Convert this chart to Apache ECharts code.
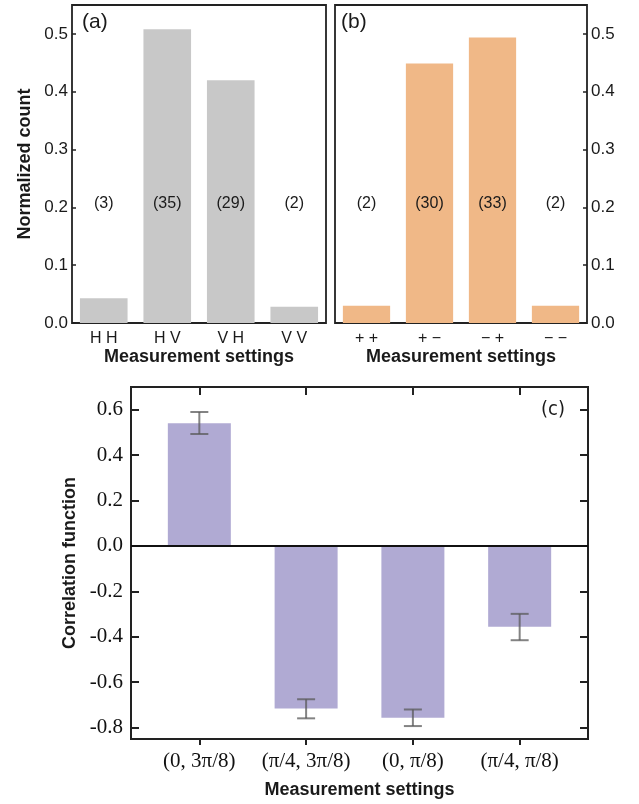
<!DOCTYPE html>
<html>
<head>
<meta charset="utf-8">
<script src="https://cdn.jsdelivr.net/npm/echarts@6/dist/echarts.min.js"></script>
<style>
html,body{margin:0;padding:0;background:#fff;}
#chart{width:639px;height:804px;}
</style>
</head>
<body>
<div id="chart"></div>
<script>
// ---- data ----
const catsA = ['H H', 'H V', 'V H', 'V V'];
const valsA = [0.043, 0.508, 0.420, 0.028];
const countsA = [3, 35, 29, 2];

const catsB = ['+ +', '+ \u2212', '\u2212 +', '\u2212 \u2212'];
const valsB = [0.030, 0.449, 0.494, 0.030];
const countsB = [2, 30, 33, 2];

const catsC = ['(0, 3\u03c0/8)', '(\u03c0/4, 3\u03c0/8)', '(0, \u03c0/8)', '(\u03c0/4, \u03c0/8)'];
const valsC = [0.54, -0.716, -0.756, -0.356];
const errLowC = [0.493, -0.759, -0.793, -0.415];
const errHighC = [0.590, -0.675, -0.720, -0.299];

const ticksAB = [0, 0.1, 0.2, 0.3, 0.4, 0.5];
const ticksC = [-0.8, -0.6, -0.4, -0.2, 0.0, 0.2, 0.4, 0.6];
const catPosC = [0, 1, 2, 3];

// ---- styling constants ----
const LABEL_Y = 0.207;
const SANS = 'Liberation Sans, Arial, sans-serif';
const SERIF = 'Liberation Serif, Times New Roman, serif';
const FRAME = '#222';
const TXT = '#1a1a1a';
const GRAY = '#c8c8c8';
const ORANGE = '#f0b887';
const PURPLE = '#b0aad3';

const chart = echarts.init(document.getElementById('chart'), null, {renderer: 'canvas'});

function fmt1(v){ return v.toFixed(1); }
const titleStyle = {fontFamily: SANS, fontSize: 18, fontWeight: 'bold', color: TXT};
const noLine = {show: false, onZero: false};

const option = {
  animation: false,
  backgroundColor: '#fff',
  grid: [
    {left: 72, top: 5, width: 254, height: 318, show: true, borderColor: FRAME, borderWidth: 1.8, backgroundColor: 'transparent'},
    {left: 335, top: 5, width: 252, height: 318, show: true, borderColor: FRAME, borderWidth: 1.8, backgroundColor: 'transparent'},
    {left: 131, top: 387, width: 457, height: 352, show: true, borderColor: FRAME, borderWidth: 2, backgroundColor: 'transparent'}
  ],
  xAxis: [
    {type: 'category', gridIndex: 0, data: catsA, axisLine: noLine, axisTick: {show: false},
     axisLabel: {fontFamily: SANS, fontSize: 16, color: TXT, margin: 8},
     name: 'Measurement settings', nameLocation: 'middle', nameGap: 25, nameTextStyle: titleStyle},
    {type: 'category', gridIndex: 1, data: catsB, axisLine: noLine, axisTick: {show: false},
     axisLabel: {fontFamily: SANS, fontSize: 16, color: TXT, margin: 8},
     name: 'Measurement settings', nameLocation: 'middle', nameGap: 25, nameTextStyle: titleStyle},
    {type: 'value', gridIndex: 2, min: -0.64, max: 3.64, position: 'bottom',
     splitLine: {show: false}, axisLine: noLine,
     axisTick: {show: true, inside: false, length: 6, lineStyle: {color: FRAME, width: 2}, customValues: catPosC},
     axisLabel: {fontFamily: SERIF, fontSize: 21, color: '#111', margin: 12, customValues: catPosC,
       formatter: v => catsC[Math.round(v)]},
     name: 'Measurement settings', nameLocation: 'middle', nameGap: 42, nameTextStyle: titleStyle},
    {type: 'value', gridIndex: 2, min: -0.64, max: 3.64, position: 'top',
     splitLine: {show: false}, axisLine: noLine,
     axisTick: {show: true, inside: true, length: 8, lineStyle: {color: FRAME, width: 2}, customValues: catPosC},
     axisLabel: {show: false}}
  ],
  yAxis: [
    {type: 'value', gridIndex: 0, min: 0, max: 0.55, position: 'left',
     splitLine: {show: false}, axisLine: noLine,
     axisTick: {show: true, inside: true, length: 4, lineStyle: {color: FRAME, width: 1.5}, customValues: ticksAB},
     axisLabel: {fontFamily: SANS, fontSize: 17, color: TXT, margin: 4, customValues: ticksAB, formatter: fmt1},
     name: 'Normalized count', nameLocation: 'middle', nameRotate: 90, nameGap: 38, nameTextStyle: titleStyle},
    {type: 'value', gridIndex: 1, min: 0, max: 0.55, position: 'right',
     splitLine: {show: false}, axisLine: noLine,
     axisTick: {show: true, inside: true, length: 4, lineStyle: {color: FRAME, width: 1.5}, customValues: ticksAB},
     axisLabel: {fontFamily: SANS, fontSize: 17, color: TXT, margin: 4, customValues: ticksAB, formatter: fmt1}},
    {type: 'value', gridIndex: 2, min: -0.85, max: 0.70, position: 'left',
     splitLine: {show: false}, axisLine: noLine,
     axisTick: {show: true, inside: true, length: 8, lineStyle: {color: FRAME, width: 2}, customValues: ticksC},
     axisLabel: {fontFamily: SERIF, fontSize: 21, color: '#111', margin: 8, customValues: ticksC, formatter: fmt1},
     name: 'Correlation function', nameLocation: 'middle', nameRotate: 90, nameGap: 48, nameTextStyle: titleStyle},
    {type: 'value', gridIndex: 2, min: -0.85, max: 0.70, position: 'right',
     splitLine: {show: false}, axisLine: noLine,
     axisTick: {show: true, inside: true, length: 8, lineStyle: {color: FRAME, width: 2}, customValues: ticksC},
     axisLabel: {show: false}}
  ],
  graphic: [
    {type: 'text', left: 82, top: 12, style: {text: '(a)', font: '21px ' + SANS, fill: TXT}},
    {type: 'text', left: 341, top: 12, style: {text: '(b)', font: '21px ' + SANS, fill: TXT}},
    {type: 'text', left: 541, top: 400, style: {text: '(c)', font: '20px "DejaVu Sans Condensed", ' + SANS, fill: TXT}}
  ],
  series: [
    {type: 'bar', xAxisIndex: 0, yAxisIndex: 0, data: valsA, barCategoryGap: '25%',
     itemStyle: {color: GRAY}},
    {type: 'scatter', xAxisIndex: 0, yAxisIndex: 0, symbolSize: 0, z: 5,
     itemStyle: {opacity: 1},
     data: countsA.map((c, i) => [i, LABEL_Y, c]),
     label: {show: true, position: 'inside', formatter: p => '(' + p.value[2] + ')',
       fontFamily: SANS, fontSize: 16, color: TXT}},
    {type: 'bar', xAxisIndex: 1, yAxisIndex: 1, data: valsB, barCategoryGap: '25%',
     itemStyle: {color: ORANGE}},
    {type: 'scatter', xAxisIndex: 1, yAxisIndex: 1, symbolSize: 0, z: 5,
     itemStyle: {opacity: 1},
     data: countsB.map((c, i) => [i, LABEL_Y, c]),
     label: {show: true, position: 'inside', formatter: p => '(' + p.value[2] + ')',
       fontFamily: SANS, fontSize: 16, color: TXT}},
    {type: 'bar', xAxisIndex: 2, yAxisIndex: 2, barWidth: 63,
     data: valsC.map((v, i) => [i, v]),
     itemStyle: {color: PURPLE},
     markLine: {silent: true, symbol: 'none', label: {show: false},
       lineStyle: {color: '#111', width: 2, type: 'solid'}, data: [{yAxis: 0}]}},
    {type: 'custom', xAxisIndex: 2, yAxisIndex: 2, z: 10,
     data: valsC.map((v, i) => [i, errLowC[i], errHighC[i]]),
     renderItem: function (params, api) {
       const x = api.value(0);
       const lo = api.coord([x, api.value(1)]);
       const hi = api.coord([x, api.value(2)]);
       const hw = 9;
       const st = {stroke: 'rgba(90,90,90,0.75)', lineWidth: 2};
       return {type: 'group', children: [
         {type: 'line', shape: {x1: lo[0], y1: lo[1], x2: hi[0], y2: hi[1]}, style: st},
         {type: 'line', shape: {x1: lo[0] - hw, y1: lo[1], x2: lo[0] + hw, y2: lo[1]}, style: st},
         {type: 'line', shape: {x1: hi[0] - hw, y1: hi[1], x2: hi[0] + hw, y2: hi[1]}, style: st}
       ]};
     }}
  ]
};
chart.setOption(option);
</script>
</body>
</html>
